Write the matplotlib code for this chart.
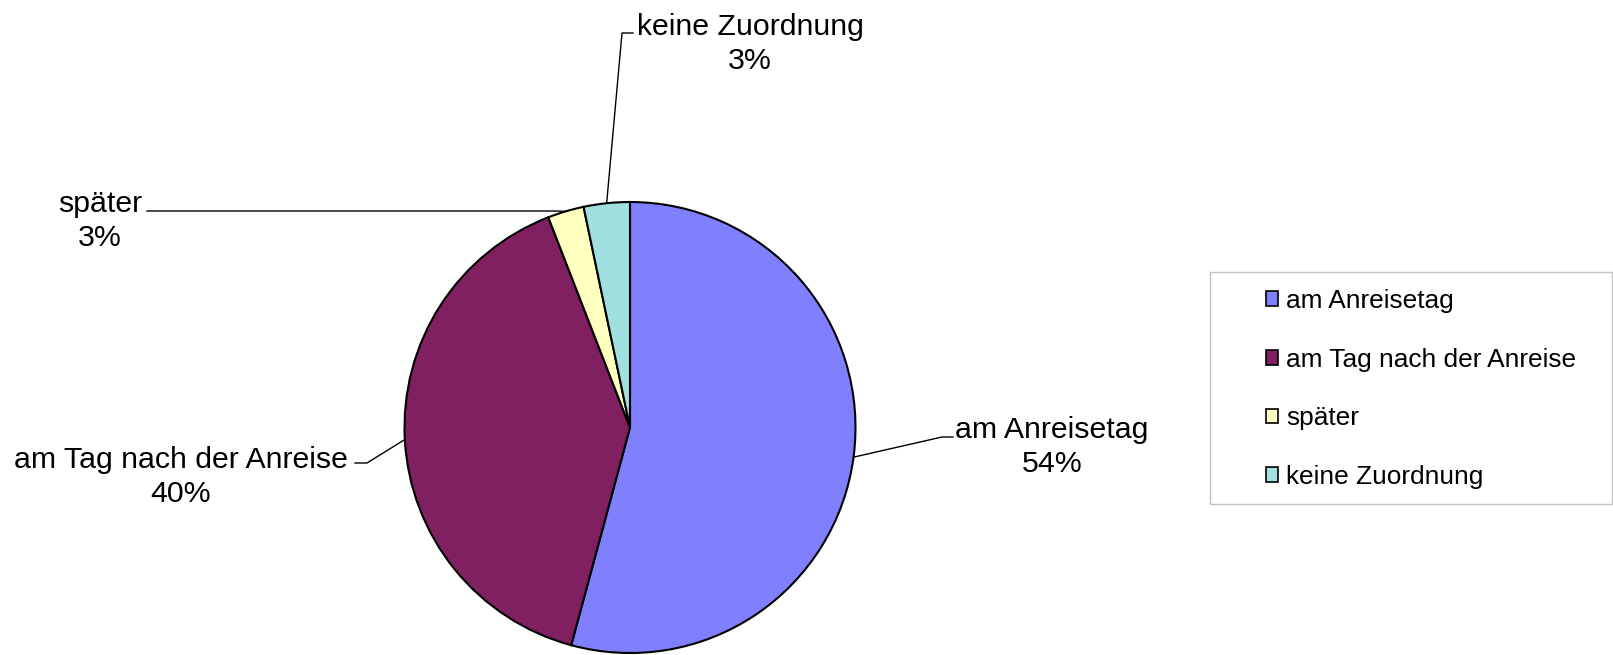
import matplotlib.pyplot as plt
from matplotlib.patches import Patch, Rectangle
import numpy as np

# Share of guests by day of first visit
categories = ["am Anreisetag", "am Tag nach der Anreise", "später", "keine Zuordnung"]
shares = [54.2, 39.9, 2.6, 3.3]
colors = ["#8080FF", "#802060", "#FFFFC0", "#A0E0E0"]

plt.rcParams['font.family'] = ['Liberation Sans', 'DejaVu Sans']

W, H = 1613, 655
fig = plt.figure(figsize=(W / 100, H / 100), dpi=100)
ax = fig.add_axes([0, 0, 1, 1])

cx, cy, r = 630, H - 427.5, 225.5
wedges, _ = ax.pie(shares, colors=colors, startangle=90, counterclock=False,
                   center=(cx, cy), radius=r,
                   wedgeprops=dict(edgecolor="black", linewidth=1.5))
ax.set_xlim(0, W)
ax.set_ylim(0, H)
ax.axis('off')

# label layout (image pixel coords): text centre, elbow, end of leader
label_pos = [(1052, 447), (181, 477), (100, 221), (750, 44)]
elbows = [((942, 437), (953, 437)),
          ((367, 463), (355, 463)),
          ((555, 211), (147, 211)),
          ((622, 33), (633, 33))]

total = sum(shares)
for w, name, val, (tx, ty), (e1, e2) in zip(wedges, categories, shares, label_pos, elbows):
    mid = np.deg2rad((w.theta1 + w.theta2) / 2)
    px, py = cx + r * np.cos(mid), cy + r * np.sin(mid)
    xs = [px, e1[0], e2[0]]
    ys = [py, H - e1[1], H - e2[1]]
    ax.plot(xs, ys, color="black", linewidth=1)
    ax.text(tx, H - ty, f"{name}\n{val / total * 100:.0f}%", ha="center", va="center",
            multialignment="center", fontsize=21.8, linespacing=1.25)

# legend
handles = [Patch(facecolor=c, edgecolor="black", linewidth=1.2) for c in colors]
ax.legend(handles, categories, loc="center left", bbox_to_anchor=(1266, H - 389),
          bbox_transform=ax.transData, frameon=False, fontsize=18.9,
          handlelength=0.47, handleheight=0.47, handletextpad=0.3,
          labelspacing=1.32, borderpad=0, borderaxespad=0)
ax.add_patch(Rectangle((1210, H - 504), 402, 232, facecolor="none",
                       edgecolor="#c0c0c0", linewidth=1))

fig.savefig("out.png", dpi=100)
